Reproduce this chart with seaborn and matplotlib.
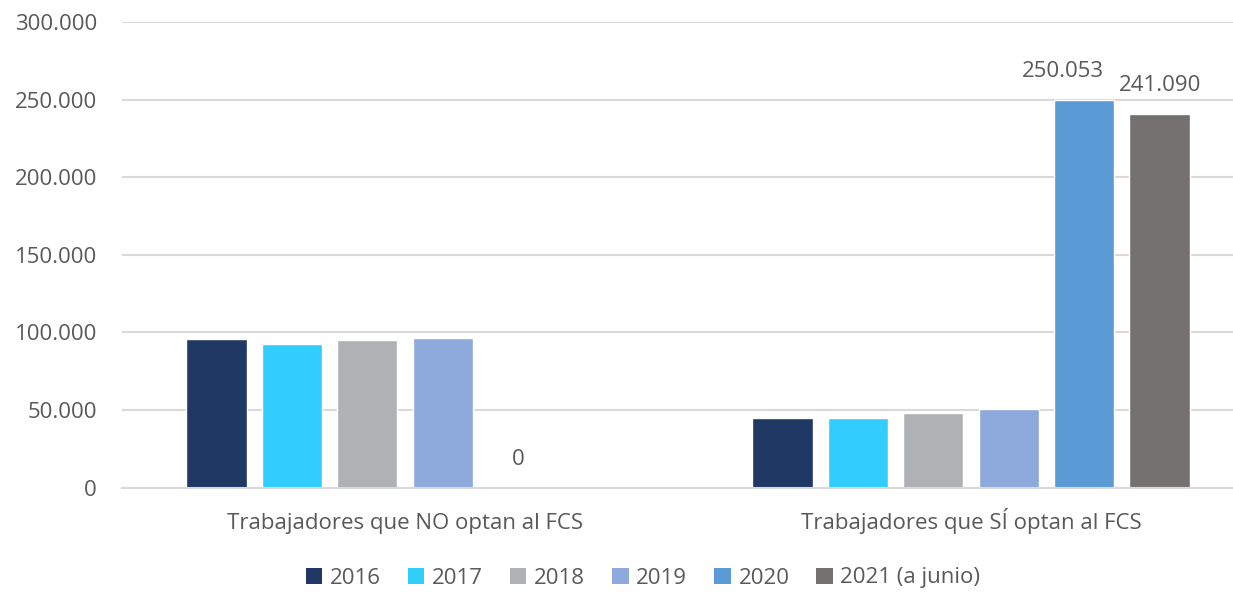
import numpy as np
import pandas as pd
import matplotlib
matplotlib.use("Agg")
import matplotlib.pyplot as plt
from matplotlib.patches import Patch
from matplotlib.ticker import FuncFormatter
import seaborn as sns

# Workers under the ERTE scheme, split by whether they opt in to the FCS
categories = ["Trabajadores que NO optan al FCS", "Trabajadores que SÍ optan al FCS"]
years = ["2016", "2017", "2018", "2019", "2020", "2021 (a junio)"]
no_optan = [95600, 92600, 95200, 96300, 0, np.nan]
si_optan = [44800, 44700, 48000, 50600, 250053, 241090]
labelled_years = ["2020", "2021 (a junio)"]
y_ticks = [0, 50000, 100000, 150000, 200000, 250000, 300000]

colors = ["#203864", "#33CCFF", "#B0B1B5", "#8EA9DB", "#5B9BD5", "#767171"]
text_color = "#595959"
grid_color = "#D9D9D9"
fs = 16


def thousands(v):
    return f"{int(round(v)):,}".replace(",", ".")


df = pd.DataFrame({
    "categoria": [categories[0]] * len(years) + [categories[1]] * len(years),
    "anio": years * 2,
    "valor": no_optan + si_optan,
})

sns.set_theme(style="white")
plt.rcParams["font.family"] = ["Open Sans", "DejaVu Sans"]

fig = plt.figure(figsize=(12.33, 5.92), dpi=100)
ax = fig.add_axes([122 / 1233, 104.5 / 592, 1132 / 1233, 465.2 / 592])

sns.barplot(data=df, x="categoria", y="valor", hue="anio", order=categories,
            hue_order=years, palette=colors, width=0.8, gap=0.2,
            errorbar=None, legend=False, ax=ax, saturation=1)

ax.set_ylim(0, 300000)
ax.set_xlim(-0.5, 1.5)
ax.set_yticks(y_ticks)
ax.yaxis.set_major_formatter(FuncFormatter(lambda v, p: thousands(v)))
ax.grid(axis="y", color=grid_color, linewidth=1.5)
ax.set_axisbelow(True)
for s in ["top", "right", "left"]:
    ax.spines[s].set_visible(False)
ax.spines["bottom"].set_color(grid_color)
ax.spines["bottom"].set_linewidth(1.5)
ax.tick_params(axis="y", length=0, pad=18, labelsize=fs, labelcolor=text_color)
ax.tick_params(axis="x", length=0, pad=30, labelsize=fs, labelcolor=text_color)
for t in ax.get_xticklabels():
    t.set_verticalalignment("baseline")
ax.set_xlabel("")
ax.set_ylabel("")

# Value labels on the 2020 and 2021 series; the two tall bars have their
# labels pushed apart so they do not collide
nudges = {("2020", 1): -15, ("2021 (a junio)", 1): 14}
for container, year in zip(ax.containers, years):
    if year not in labelled_years:
        continue
    for i, bar in enumerate(container):
        h = bar.get_height()
        if np.isnan(h):
            continue
        ax.annotate(thousands(h),
                    (bar.get_x() + bar.get_width() / 2, h),
                    xytext=(nudges.get((year, i), 0), 20), textcoords="offset points",
                    ha="center", va="center", fontsize=fs, color=text_color)

handles = [Patch(facecolor=c, edgecolor="none") for c in colors]
fig.legend(handles, years, loc="center", bbox_to_anchor=(643 / 1233, 14 / 592),
           ncol=6, frameon=False, fontsize=fs, labelcolor=text_color,
           handlelength=0.75, handleheight=0.75, handletextpad=0.35, columnspacing=1.2)

fig.savefig("out.png", dpi=100)
